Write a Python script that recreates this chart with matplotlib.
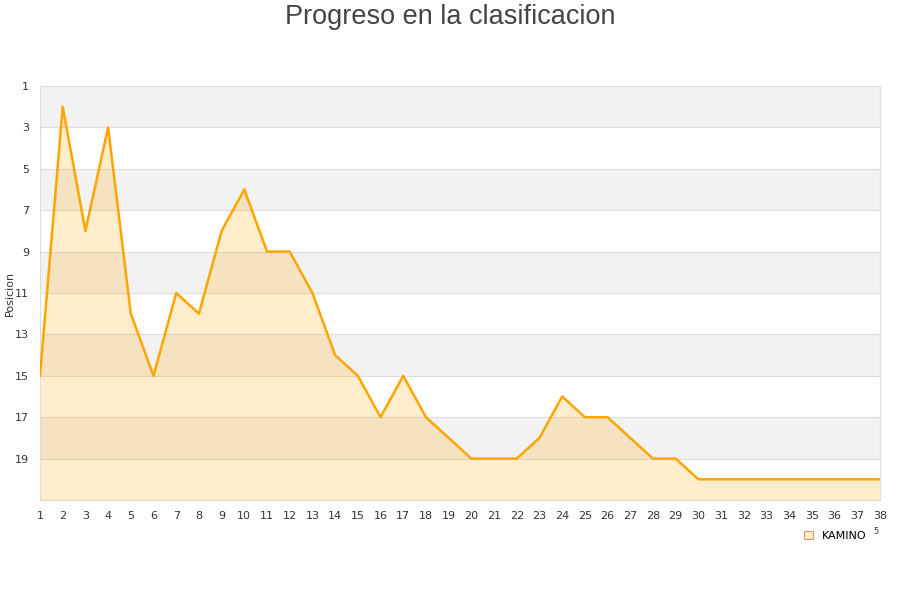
import matplotlib
matplotlib.use('Agg')
import matplotlib.pyplot as plt
from matplotlib.patches import Patch

jornadas = list(range(1, 39))
posiciones = [15, 2, 8, 3, 12, 15, 11, 12, 8, 6,
              9, 9, 11, 14, 15, 17, 15, 17, 18, 19,
              19, 19, 18, 16, 17, 17, 18, 19, 19, 20,
              20, 20, 20, 20, 20, 20, 20, 20]
y_ticks = [1, 3, 5, 7, 9, 11, 13, 15, 17, 19]
equipo = 'KAMINO'

fig = plt.figure(figsize=(9, 6), dpi=100)
ax = fig.add_axes([40/900, 1-500/600, 840/900, 414/600])

# bandas alternas de fondo
for i in range(0, len(y_ticks), 2):
    ax.axhspan(y_ticks[i], y_ticks[i] + 2, color='#f2f2f2', zorder=0, lw=0)
for t in y_ticks[1:]:
    ax.axhline(t, color='#dddddd', lw=0.8, zorder=1)

ax.fill_between(jornadas, posiciones, 21, color='#ffa500', alpha=0.2, lw=0, zorder=2)
ax.plot(jornadas, posiciones, color='#ffa500', lw=1.8, zorder=3)

ax.set_xlim(1, 38)
ax.set_ylim(21, 1)
ax.set_xticks(jornadas)
ax.set_yticks(y_ticks)
ax.tick_params(length=0, labelsize=8, colors='#333333', pad=8)
for s in ax.spines.values():
    s.set_color('#dddddd')
    s.set_linewidth(0.8)

ax.set_ylabel('Posicion', fontsize=8, color='#333333')
ax.yaxis.set_label_coords(-25/840, 0.5)
fig.text(0.5, 1-17/600, 'Progreso en la clasificacion', ha='center', va='center',
         fontsize=19.5, family='Liberation Sans', color='#444444')

h = Patch(facecolor='#ffecc8', edgecolor='#c8a070', lw=0.8)
fig.legend([h], [equipo], loc='center', bbox_to_anchor=(835/900, 1-536/600),
           frameon=False, fontsize=8, handlelength=0.8, handleheight=0.8,
           handletextpad=0.8)
fig.text(876/900, 1-531/600, '5', fontsize=6, color='#333333', ha='center', va='center')

fig.savefig('out.png', dpi=100)
